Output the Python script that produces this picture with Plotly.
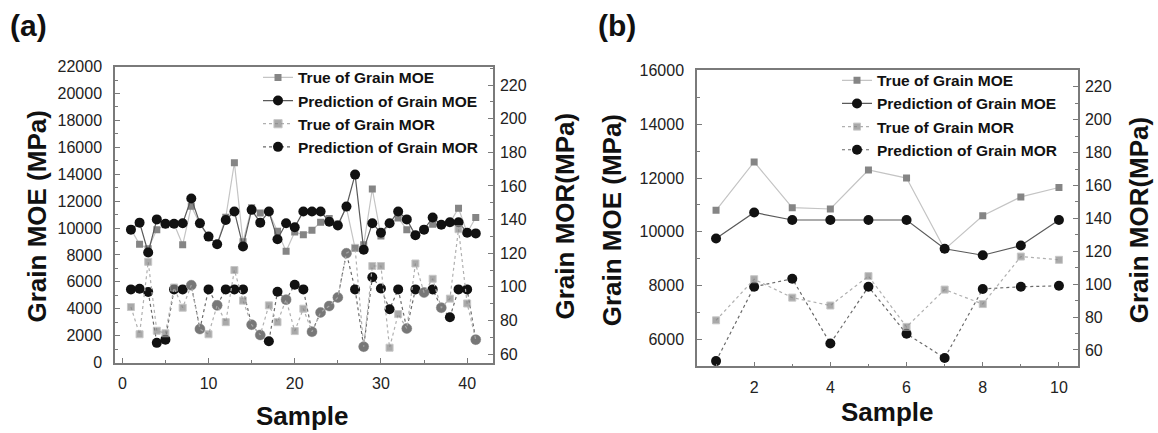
import plotly.graph_objects as go

W, H = 1158, 433

# ---------------- Panel (a) data ----------------
samples_a = list(range(1, 42))
true_moe_a = [9900, 8790, 8460, 9880, 10250, 10300, 8750, 11610, 10300, 9300,
              8800, 10800, 14850, 8980, 11500, 11110, 11200, 9760, 8270, 9700,
              9500, 9830, 10420, 10710, 10300, 11500, 8500, 8750, 12900, 9400,
              10350, 10750, 9880, 9500, 9900, 10280, 10200, 10400, 11470, 9650,
              10780]
pred_moe_a = [9880, 10400, 8180, 10640, 10310, 10310, 10350, 12200, 10350, 9360,
              8790, 10590, 11230, 8630, 11350, 10400, 11230, 9170, 10350, 10050,
              11230, 11230, 11230, 10470, 10190, 11600, 13970, 8390, 10350, 9650,
              10350, 11230, 10640, 9460, 9880, 10780, 10240, 10430, 10430, 9650,
              9600]
true_mor_a = [88, 71.8, 114.9, 73.9, 72.4, 99.6, 87.6, 101, 74.9, 71.8,
              89, 79, 110, 91.8, 77.5, 71.4, 89, 79, 92.4, 73.7,
              87, 73.3, 84.8, 88.6, 93.7, 120, 123.2, 64.4, 112.4, 112.4,
              63.8, 83.8, 75.2, 113.9, 96.6, 104.8, 87.6, 93, 134.3, 90.1,
              68.6]
pred_mor_a = [98.5, 98.9, 97, 66.7, 68.6, 98.5, 98.5, 101, 74.9, 98.5,
              89, 98.5, 98.5, 98.5, 77.5, 71.4, 67.6, 97.1, 92.4, 101.3,
              98.5, 73.3, 84.8, 88.6, 93.7, 120, 98.5, 64.4, 105.7, 99,
              86.7, 98.5, 75.2, 98.5, 96.6, 98.5, 87.6, 81.9, 98.5, 98.5,
              68.6]
# samples where predicted MOR coincides with the true MOR (drawn as a grey circle)
coincide_a = [8, 9, 11, 15, 16, 19, 22, 23, 24, 25, 26, 28, 33, 35, 37, 41]

# ---------------- Panel (b) data ----------------
samples_b = list(range(1, 11))
true_moe_b = [10800, 12600, 10900, 10850, 12300, 12000, 9350, 10600, 11300, 11650]
pred_moe_b = [9750, 10720, 10440, 10440, 10440, 10440, 9370, 9130, 9490, 10440]
true_mor_b = [78, 103, 91.8, 87, 104.9, 74, 96.7, 87.9, 116.8, 114.8]
pred_mor_b = [53.2, 98.4, 103.3, 63.9, 98.4, 69.8, 55.1, 97.1, 98.4, 99]

names = ["True of Grain MOE", "Prediction of Grain MOE",
         "True of Grain MOR", "Prediction of Grain MOR"]

FONT = "Liberation Sans, Arial, sans-serif"
SQ_COLOR = "#858585"
CIRC_COLOR = "#111111"

fig = go.Figure()


def add_panel(x, tmoe, pmoe, tmor, pmor, xa, ya, ya2, legend, mor_symbols):
    fig.add_trace(go.Scatter(
        x=x, y=tmoe, name=names[0], mode="lines+markers",
        line=dict(color="#c4c4c4", width=1.2),
        marker=dict(symbol="square", size=7, color=SQ_COLOR),
        xaxis=xa, yaxis=ya, legend=legend, legendrank=1))
    fig.add_trace(go.Scatter(
        x=x, y=pmoe, name=names[1], mode="lines+markers",
        line=dict(color="#5a5a5a", width=1.2),
        marker=dict(symbol="circle", size=10, color=CIRC_COLOR),
        xaxis=xa, yaxis=ya, legend=legend, legendrank=2))
    fig.add_trace(go.Scatter(
        x=x, y=pmor, name=names[3], mode="lines+markers",
        line=dict(color="#6a6a6a", width=1.2, dash="dot"),
        marker=dict(symbol="circle", size=10, color=CIRC_COLOR),
        xaxis=xa, yaxis=ya2, legend=legend, legendrank=4))
    cols = [("#a3a3a3" if s == "circle" else SQ_COLOR) for s in mor_symbols]
    sizes = [(10 if s == "circle" else 7) for s in mor_symbols]
    fig.add_trace(go.Scatter(
        x=x, y=tmor, name=names[2], mode="lines+markers",
        line=dict(color="#b0b0b0", width=1.2, dash="dot"),
        marker=dict(symbol=mor_symbols, size=sizes, color=cols),
        xaxis=xa, yaxis=ya2, legend=legend, legendrank=3))


sym_a = ["circle" if s in coincide_a else "square" for s in samples_a]
add_panel(samples_a, true_moe_a, pred_moe_a, true_mor_a, pred_mor_a,
          "x", "y", "y2", "legend", sym_a)
add_panel(samples_b, true_moe_b, pred_moe_b, true_mor_b, pred_mor_b,
          "x2", "y3", "y4", "legend2", ["square"] * len(samples_b))

AX = "#7a7a7a"
tickfont = dict(family=FONT, size=16, color="#222")


def px_x(p):
    return p / W


def px_y(p):
    return 1 - p / H


dom_a_x = [px_x(115), px_x(493)]
dom_a_y = [px_y(369), px_y(61)]
dom_b_x = [px_x(697), px_x(1078)]
dom_b_y = [px_y(373), px_y(65)]

common = dict(showgrid=False, zeroline=False, showline=True, linecolor=AX,
              linewidth=1.5, ticks="inside", ticklen=5, tickcolor=AX,
              tickfont=tickfont, tickformat="d")

legend_font = dict(family=FONT, size=15.5, color="#111", weight="bold")

fig.update_layout(
    width=W, height=H, margin=dict(l=0, r=0, t=0, b=0),
    paper_bgcolor="white", plot_bgcolor="white",
    font=dict(family=FONT, color="#222"),
    xaxis=dict(domain=dom_a_x, range=[-0.85, 43], dtick=10, tick0=0, mirror=True,
               anchor="y", minor=dict(ticks="inside", ticklen=3, dtick=5, tickcolor=AX),
               ticklabelstandoff=6, **common),
    yaxis=dict(domain=dom_a_y, range=[0, 22000], dtick=2000, tick0=0, anchor="x",
               minor=dict(ticks="inside", ticklen=3, dtick=1000, tickcolor=AX),
               ticklabelstandoff=8, **common),
    yaxis2=dict(range=[55, 231], dtick=20, tick0=0, overlaying="y", side="right",
                anchor="x", minor=dict(ticks="inside", ticklen=3, dtick=10, tickcolor=AX),
                ticklabelstandoff=2, **common),
    xaxis2=dict(domain=dom_b_x, range=[0.5, 10.5], dtick=2, tick0=0, mirror=True,
                anchor="y3", minor=dict(ticks="inside", ticklen=3, dtick=1, tickcolor=AX),
                ticklabelstandoff=6, **common),
    yaxis3=dict(domain=dom_b_y, range=[5000, 16000], dtick=2000, tick0=0, anchor="x2",
                minor=dict(ticks="inside", ticklen=3, dtick=1000, tickcolor=AX),
                ticklabelstandoff=8, **common),
    yaxis4=dict(range=[50, 230], dtick=20, tick0=0, overlaying="y3", side="right",
                anchor="x2", minor=dict(ticks="inside", ticklen=3, dtick=10, tickcolor=AX),
                ticklabelstandoff=2, **common),
    legend=dict(x=px_x(258), y=px_y(55), xanchor="left", yanchor="top",
                bgcolor="rgba(0,0,0,0)", borderwidth=0, font=legend_font,
                itemwidth=30, tracegroupgap=0),
    legend2=dict(x=px_x(837), y=px_y(58), xanchor="left", yanchor="top",
                 bgcolor="rgba(0,0,0,0)", borderwidth=0, font=legend_font,
                 itemwidth=30, tracegroupgap=0),
)

title_font = dict(family=FONT, size=26, color="#111", weight="bold")
label_font = dict(family=FONT, size=30, color="#111", weight="bold")
ann = [
    dict(text="(a)", x=px_x(8), y=px_y(18), xanchor="left", yanchor="middle",
         font=label_font),
    dict(text="(b)", x=px_x(596), y=px_y(18), xanchor="left", yanchor="middle",
         font=label_font),
    dict(text="Grain MOE (MPa)", x=px_x(37), y=px_y(217), textangle=-90,
         xanchor="center", yanchor="middle", font=title_font),
    dict(text="Grain MOR(MPa)", x=px_x(565), y=px_y(217), textangle=-90,
         xanchor="center", yanchor="middle", font=title_font),
    dict(text="Sample", x=px_x(302), y=px_y(442), xanchor="center", yanchor="bottom",
         font=title_font),
    dict(text="Grain MOE (MPa)", x=px_x(612), y=px_y(221), textangle=-90,
         xanchor="center", yanchor="middle", font=title_font),
    dict(text="Grain MOR(MPa)", x=px_x(1139), y=px_y(221), textangle=-90,
         xanchor="center", yanchor="middle", font=title_font),
    dict(text="Sample", x=px_x(887), y=px_y(438), xanchor="center", yanchor="bottom",
         font=title_font),
]
for a in ann:
    a.update(xref="paper", yref="paper", showarrow=False)
fig.update_layout(annotations=ann)

fig.write_html("out.html", config={"displayModeBar": False},
               post_script="document.body.style.margin='0';document.body.style.padding='0';")
